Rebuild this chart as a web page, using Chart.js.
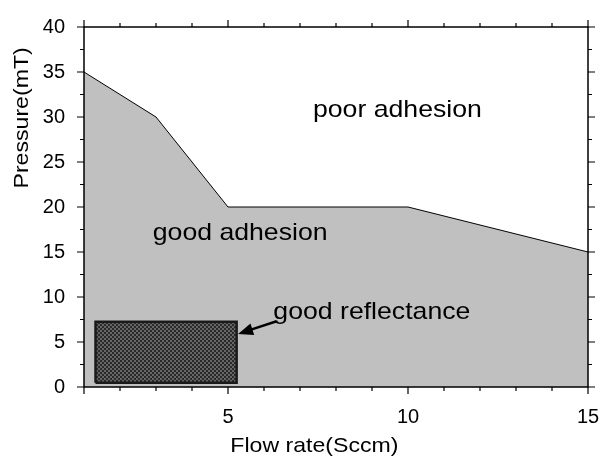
<!DOCTYPE html>
<html>
<head>
<meta charset="utf-8">
<script src="https://cdn.jsdelivr.net/npm/chart.js@4.4.1/dist/chart.umd.min.js"></script>
<style>
  html, body { margin: 0; padding: 0; background: #fff; }
  #wrap { width: 601px; height: 458px; }
</style>
</head>
<body>
<div id="wrap"><canvas id="myChart" width="601" height="458"></canvas></div>
<script>
// boundary between good / poor adhesion
const flowRate = [1, 3, 5, 10, 15];
const pressure = [35, 30, 20, 20, 15];

// good reflectance window (x range, y range)
const reflX = [1.32, 5.24];
const reflY = [0.48, 7.26];

const xTicks = [5, 10, 15];
const yTicks = [0, 5, 10, 15, 20, 25, 30, 35, 40];

// region labels, anchored at left end of the baseline
const labels = [
  { text: "poor adhesion", x: 7.36, y: 30.0 },
  { text: "good adhesion", x: 2.91, y: 16.33 },
  { text: "good reflectance", x: 6.26, y: 7.52 }
];
const arrowFrom = [6.35, 7.3];
const arrowTo = [5.28, 5.9];

const FONT = "'Liberation Sans', Arial, sans-serif";

// checker pattern for the dark box
const pc = document.createElement("canvas");
pc.width = 4; pc.height = 4;
const pctx = pc.getContext("2d");
pctx.fillStyle = "#666";
pctx.fillRect(0, 0, 4, 4);
pctx.fillStyle = "#2a2a2a";
pctx.fillRect(0, 0, 2, 2);
pctx.fillRect(2, 2, 2, 2);
const checker = pctx.createPattern(pc, "repeat");

const boundary = flowRate.map((v, i) => ({ x: v, y: pressure[i] }));
const box = [
  { x: reflX[0], y: reflY[0] },
  { x: reflX[1], y: reflY[0] },
  { x: reflX[1], y: reflY[1] },
  { x: reflX[0], y: reflY[1] },
  { x: reflX[0], y: reflY[0] }
];

// text drawn a bit wider than the font, like the original
function wideText(ctx, str, x, y, sx) {
  ctx.save();
  ctx.translate(x, y);
  ctx.scale(sx, 1);
  ctx.fillText(str, 0, 0);
  ctx.restore();
}

const extras = {
  id: "extras",
  afterDatasetsDraw(chart) {
    const ctx = chart.ctx;
    const xs = chart.scales.x, ys = chart.scales.y;
    const a = chart.chartArea;
    ctx.save();

    // frame
    ctx.strokeStyle = "#000";
    ctx.lineWidth = 1.5;
    ctx.strokeRect(a.left, a.top, a.right - a.left, a.bottom - a.top);

    // ticks, major + minor, all four sides
    ctx.lineWidth = 1.2;
    ctx.beginPath();
    for (let v = 1; v <= 15; v++) {
      const px = xs.getPixelForValue(v);
      const len = xTicks.includes(v) || v === 1 ? 7 : 4;
      ctx.moveTo(px, a.bottom); ctx.lineTo(px, a.bottom + len);
      ctx.moveTo(px, a.top); ctx.lineTo(px, a.top - len);
    }
    for (let v = 0; v <= 40; v += 2.5) {
      const py = ys.getPixelForValue(v);
      const len = v % 5 === 0 ? 7 : 4;
      ctx.moveTo(a.left, py); ctx.lineTo(a.left - len, py);
      ctx.moveTo(a.right, py); ctx.lineTo(a.right + len, py);
    }
    ctx.stroke();

    // region labels
    ctx.fillStyle = "#000";
    ctx.font = "24px " + FONT;
    ctx.textAlign = "left";
    ctx.textBaseline = "alphabetic";
    labels.forEach(l => {
      wideText(ctx, l.text, xs.getPixelForValue(l.x), ys.getPixelForValue(l.y), 1.11);
    });

    // arrow
    const x1 = xs.getPixelForValue(arrowFrom[0]), y1 = ys.getPixelForValue(arrowFrom[1]);
    const x2 = xs.getPixelForValue(arrowTo[0]), y2 = ys.getPixelForValue(arrowTo[1]);
    const ang = Math.atan2(y2 - y1, x2 - x1);
    const hl = 15, hw = 6;
    ctx.lineWidth = 2.5;
    ctx.beginPath();
    ctx.moveTo(x1, y1);
    ctx.lineTo(x2 - Math.cos(ang) * hl * 0.8, y2 - Math.sin(ang) * hl * 0.8);
    ctx.stroke();
    ctx.beginPath();
    ctx.moveTo(x2, y2);
    ctx.lineTo(x2 - Math.cos(ang) * hl - Math.sin(ang) * hw, y2 - Math.sin(ang) * hl + Math.cos(ang) * hw);
    ctx.lineTo(x2 - Math.cos(ang) * hl + Math.sin(ang) * hw, y2 - Math.sin(ang) * hl - Math.cos(ang) * hw);
    ctx.closePath();
    ctx.fill();

    // axis titles
    ctx.font = "21px " + FONT;
    ctx.textAlign = "center";
    ctx.textBaseline = "middle";
    wideText(ctx, "Flow rate(Sccm)", xs.getPixelForValue(7.4), 446, 1.1);
    ctx.translate(22, ys.getPixelForValue(29.9));
    ctx.rotate(-Math.PI / 2);
    wideText(ctx, "Pressure(mT)", 0, 0, 1.1);
    ctx.restore();
  }
};

new Chart("myChart", {
  type: "scatter",
  data: {
    datasets: [
      {
        data: box,
        showLine: true,
        borderColor: "#1a1a1a",
        borderWidth: 2.5,
        backgroundColor: checker,
        fill: "shape",
        pointRadius: 0,
        tension: 0
      },
      {
        data: boundary,
        showLine: true,
        borderColor: "#000",
        borderWidth: 1,
        backgroundColor: "#c0c0c0",
        fill: "origin",
        pointRadius: 0,
        tension: 0
      }
    ]
  },
  options: {
    responsive: false,
    animation: false,
    layout: { padding: { top: 27, right: 13, left: 0, bottom: 0 } },
    plugins: {
      legend: { display: false },
      tooltip: { enabled: false }
    },
    scales: {
      x: {
        type: "linear",
        min: 1,
        max: 15,
        afterFit(s) { s.height = 71; s.paddingLeft = 0; s.paddingRight = 0; },
        afterBuildTicks(s) { s.ticks = xTicks.map(v => ({ value: v })); },
        grid: { display: false },
        border: { display: false },
        ticks: { color: "#000", font: { family: FONT, size: 20 }, padding: 10, maxRotation: 0 }
      },
      y: {
        min: 0,
        max: 40,
        afterFit(s) { s.width = 84; s.paddingTop = 0; s.paddingBottom = 0; },
        afterBuildTicks(s) { s.ticks = yTicks.map(v => ({ value: v })); },
        grid: { display: false },
        border: { display: false },
        ticks: { color: "#000", font: { family: FONT, size: 20 }, padding: 11 }
      }
    }
  },
  plugins: [extras]
});
</script>
</body>
</html>
